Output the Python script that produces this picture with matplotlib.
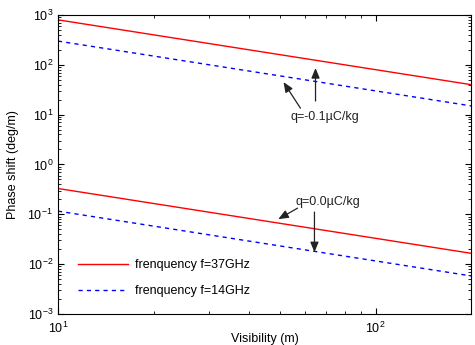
import matplotlib
matplotlib.use("Agg")
import matplotlib.pyplot as plt
from matplotlib.ticker import LogLocator, NullFormatter

plt.rcParams['font.family'] = ['Liberation Sans', 'DejaVu Sans']
plt.rcParams['mathtext.fontset'] = 'custom'
plt.rcParams['mathtext.rm'] = 'Liberation Sans'

visibility = [10, 200]
f37_q01 = [800, 40]
f14_q01 = [300, 15]
f37_q00 = [0.33, 0.0165]
f14_q00 = [0.116, 0.0058]

fig = plt.figure(figsize=(4.75, 3.45), dpi=100)
ax = fig.add_axes([0.122, 0.0899, 0.870, 0.8666])

red = '#ff0000'
blue = '#0000ff'
l1, = ax.plot(visibility, f37_q01, '-', color=red, lw=1, label='frenquency f=37GHz')
l2, = ax.plot(visibility, f14_q01, '--', color=blue, lw=1, dashes=(3, 3), label='frenquency f=14GHz')
ax.plot(visibility, f37_q00, '-', color=red, lw=1)
ax.plot(visibility, f14_q00, '--', color=blue, lw=1, dashes=(3, 3))

ax.set_xscale('log')
ax.set_yscale('log')
ax.set_xlim(10, 200)
ax.set_ylim(1e-3, 1e3)
ax.yaxis.set_major_locator(LogLocator(base=10, numticks=10))
ax.yaxis.set_minor_locator(LogLocator(base=10, subs=range(2, 10), numticks=100))
ax.yaxis.set_minor_formatter(NullFormatter())
ax.xaxis.set_minor_formatter(NullFormatter())

ax.tick_params(which='both', direction='in', top=True, right=True, labelsize=9)
ax.tick_params(which='major', length=4)
ax.tick_params(which='minor', length=2)
ax.tick_params(axis='x', which='major', pad=5)
for s in ax.spines.values():
    s.set_linewidth(0.8)

ax.set_xlabel('Visibility (m)', fontsize=9, labelpad=-2)
ax.set_ylabel('Phase shift (deg/m)', fontsize=9, labelpad=6)

tc = '#222222'
aprops = dict(arrowstyle='-|>,head_length=0.6,head_width=0.25', color=tc, lw=0.9, shrinkA=0, shrinkB=0)
ax.text(54, 9.0, 'q=-0.1\u00b5C/kg', fontsize=9, ha='left', va='center', color=tc)
ax.annotate('', xy=(51.3, 45), xytext=(58, 13.5), arrowprops=aprops)
ax.annotate('', xy=(64.7, 86), xytext=(64.7, 18.8), arrowprops=aprops)

ax.text(56, 0.176, 'q=0.0\u00b5C/kg', fontsize=9, ha='left', va='center', color=tc)
ax.annotate('', xy=(49.4, 0.080), xytext=(56.8, 0.133), arrowprops=aprops)
ax.annotate('', xy=(64.2, 0.0174), xytext=(64.2, 0.111), arrowprops=aprops)

ax.legend(handles=[l1, l2], loc='lower left', bbox_to_anchor=(0.048, 0.057),
          frameon=False, fontsize=9, handlelength=4, handletextpad=0.56,
          labelspacing=1.1, borderpad=0, borderaxespad=0)

fig.savefig('out.png', dpi=100)
